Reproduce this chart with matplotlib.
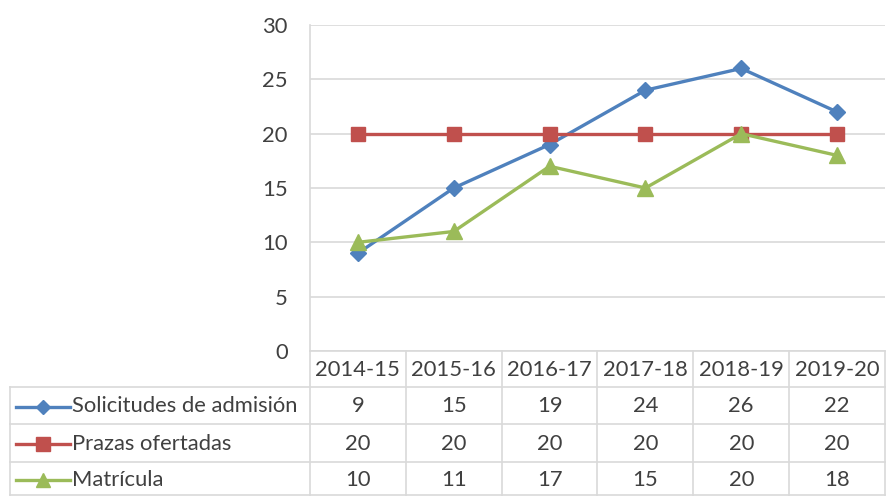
import matplotlib
matplotlib.use("Agg")
import matplotlib.pyplot as plt
from matplotlib.lines import Line2D

# data
categories = ["2014-15", "2015-16", "2016-17", "2017-18", "2018-19", "2019-20"]
series_names = ["Solicitudes de admisión", "Prazas ofertadas", "Matrícula"]
solicitudes = [9, 15, 19, 24, 26, 22]
prazas = [20, 20, 20, 20, 20, 20]
matricula = [10, 11, 17, 15, 20, 18]
yticks = [0, 5, 10, 15, 20, 25, 30]

colors = ["#4F81BD", "#C0504D", "#9BBB59"]
markers = ["D", "s", "^"]
msizes = [8.5, 10.5, 11.5]
grid_c = "#D9D9D9"
text_c = "#404040"

plt.rcParams["font.family"] = ["Lato", "DejaVu Sans"]
FS = 15.8

W, H = 886, 496
fig = plt.figure(figsize=(W / 100, H / 100), dpi=100)

# pixel layout
x_left, x_right = 310, 885
y_top, y_zero = 25, 351
tbl_left = 10
row_lines = [351, 387, 424, 462, 495]


def fx(px):
    return px / W


def fy(py):
    return 1 - py / H


ax = fig.add_axes([fx(x_left), fy(y_zero), fx(x_right) - fx(x_left), fy(y_top) - fy(y_zero)])
x = range(len(categories))
for vals, c, m, ms in zip([solicitudes, prazas, matricula], colors, markers, msizes):
    ax.plot(x, vals, color=c, lw=2.4, marker=m, ms=ms, mec=c, mfc=c, zorder=3,
            solid_joinstyle="round")
ax.set_xlim(-0.5, len(categories) - 0.5)
ax.set_ylim(0, 30)
ax.set_yticks(yticks)
ax.set_xticks([])
ax.yaxis.grid(True, color=grid_c, lw=1.2)
ax.set_axisbelow(True)
for s in ["top", "right", "bottom"]:
    ax.spines[s].set_visible(False)
ax.spines["left"].set_color(grid_c)
ax.spines["left"].set_linewidth(1.2)
ax.tick_params(axis="y", length=0, pad=16, labelsize=FS, labelcolor=text_c)
ax.patch.set_alpha(0)

# data table overlay in pixel coordinates
tab = fig.add_axes([0, 0, 1, 1])
tab.set_xlim(0, W)
tab.set_ylim(H, 0)
tab.axis("off")
tab.patch.set_alpha(0)

col_w = (x_right - x_left) / len(categories)
col_edges = [x_left + i * col_w for i in range(len(categories) + 1)]

# horizontal lines
tab.plot([x_left, x_right], [row_lines[0]] * 2, color=grid_c, lw=1.2)
for yl in row_lines[1:]:
    tab.plot([tbl_left, x_right], [yl, yl], color=grid_c, lw=1.2)
# vertical lines
for xe in col_edges:
    tab.plot([xe, xe], [row_lines[0], row_lines[-1]], color=grid_c, lw=1.2)
tab.plot([tbl_left, tbl_left], [row_lines[1], row_lines[-1]], color=grid_c, lw=1.2)

# header
for i, cat in enumerate(categories):
    cx = (col_edges[i] + col_edges[i + 1]) / 2
    tab.text(cx, (row_lines[0] + row_lines[1]) / 2 + 1, cat, ha="center", va="center",
             fontsize=FS, color=text_c)

# rows
for r, (name, vals) in enumerate(zip(series_names, [solicitudes, prazas, matricula])):
    cy = (row_lines[r + 1] + row_lines[r + 2]) / 2 + 1
    tab.add_line(Line2D([16, 70], [cy, cy], color=colors[r], lw=2.4))
    tab.plot([43], [cy], marker=markers[r], ms=msizes[r] - 1, color=colors[r])
    tab.text(72, cy, name, ha="left", va="center", fontsize=FS, color=text_c)
    for i, v in enumerate(vals):
        cx = (col_edges[i] + col_edges[i + 1]) / 2
        tab.text(cx, cy, str(v), ha="center", va="center", fontsize=FS, color=text_c)

fig.savefig("out.png", dpi=100)
